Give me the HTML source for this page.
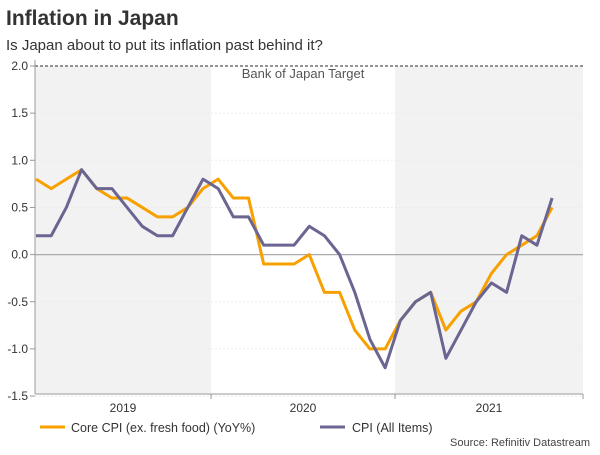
<!DOCTYPE html>
<html><head><meta charset="utf-8"><style>
body{margin:0;background:#fff;font-family:"Liberation Sans",Arial,sans-serif;}
svg text{font-family:"Liberation Sans",Arial,sans-serif;}
</style></head><body>
<svg width="600" height="450">
<text x="6" y="25" font-size="21" font-weight="bold" fill="#333">Inflation in Japan</text>
<text x="6" y="50" font-size="15" fill="#333">Is Japan about to put its inflation past behind it?</text>
<g id="bands"></g>
<g id="grid"></g>
<line x1="35" y1="66" x2="583" y2="66" stroke="#555" stroke-dasharray="3,2" stroke-width="1.2"/>
<text x="303" y="78" font-size="13" fill="#555" text-anchor="middle">Bank of Japan Target</text>
<g id="lines"></g>
<g id="axes"></g>
<line x1="40" y1="427" x2="65" y2="427" stroke="#f7a000" stroke-width="3"/>
<text x="71" y="432" font-size="12.5" fill="#333">Core CPI (ex. fresh food) (YoY%)</text>
<line x1="320" y1="427" x2="345" y2="427" stroke="#6a6591" stroke-width="3"/>
<text x="352" y="432" font-size="12.5" fill="#333">CPI (All Items)</text>
<text x="590" y="446" font-size="11" fill="#444" text-anchor="end">Source: Refinitiv Datastream</text>
</svg>
<script>
const coreCPI=[0.8,0.7,0.8,0.9,0.7,0.6,0.6,0.5,0.4,0.4,0.5,0.7,0.8,0.6,0.6,-0.1,-0.1,-0.1,0.0,-0.4,-0.4,-0.8,-1.0,-1.0,-0.7,-0.5,-0.4,-0.8,-0.6,-0.5,-0.2,0.0,0.1,0.2,0.5];
const allCPI=[0.2,0.2,0.5,0.9,0.7,0.7,0.5,0.3,0.2,0.2,0.5,0.8,0.7,0.4,0.4,0.1,0.1,0.1,0.3,0.2,0.0,-0.4,-0.9,-1.2,-0.7,-0.5,-0.4,-1.1,-0.8,-0.5,-0.3,-0.4,0.2,0.1,0.6];
const yTicks=[2.0,1.5,1.0,0.5,0.0,-0.5,-1.0,-1.5];
const yearLabels=["2019","2020","2021"];
const NS="http://www.w3.org/2000/svg";
const X=i=>36+i*15.18;
const Y=v=>254.6-v*94.3;
function mk(t,a,p){const e=document.createElementNS(NS,t);for(const k in a)e.setAttribute(k,a[k]);document.getElementById(p).appendChild(e);return e;}
const bounds=[[35,211],[211,395],[395,583]];
bounds.forEach((b,i)=>{if(i!==1){const r=mk('rect',{x:b[0],y:66,width:b[1]-b[0],height:328,fill:'#f2f2f2'},'bands');

}
const t=mk('text',{x:(b[0]+b[1])/2,y:412,'font-size':12,fill:'#333','text-anchor':'middle'},'axes');t.textContent=yearLabels[i];


const tk=mk('line',{x1:b[1],x2:b[1],y1:394,y2:399,stroke:'#999'},'axes');

});
yTicks.forEach(v=>{const y=Y(v);
if(v!==0&&v!==2){const g=mk('line',{x1:35,x2:583,y1:y,y2:y,stroke:'#ebebeb','stroke-dasharray':'2,2'},'grid');

}
const t=mk('text',{x:28,y:y+4,'font-size':12,fill:'#333','text-anchor':'end'},'axes');t.textContent=v.toFixed(1);


const tk=mk('line',{x1:30,x2:35,y1:y,y2:y,stroke:'#999'},'axes');

});
const z=mk('line',{x1:35,x2:583,y1:Y(0),y2:Y(0),stroke:'#aaa','stroke-width':1.2},'grid');


const ya=mk('line',{x1:35,x2:35,y1:60,y2:394,stroke:'#999'},'axes');


const xa=mk('line',{x1:35,x2:583,y1:394,y2:394,stroke:'#999'},'axes');


const p1=mk('polyline',{points:coreCPI.map((v,i)=>X(i)+','+Y(v)).join(' '),fill:'none',stroke:'#f7a000','stroke-width':3,'stroke-linejoin':'round'},'lines');


const p2=mk('polyline',{points:allCPI.map((v,i)=>X(i)+','+Y(v)).join(' '),fill:'none',stroke:'#6a6591','stroke-width':3,'stroke-linejoin':'round'},'lines');


</script>
</body></html>
